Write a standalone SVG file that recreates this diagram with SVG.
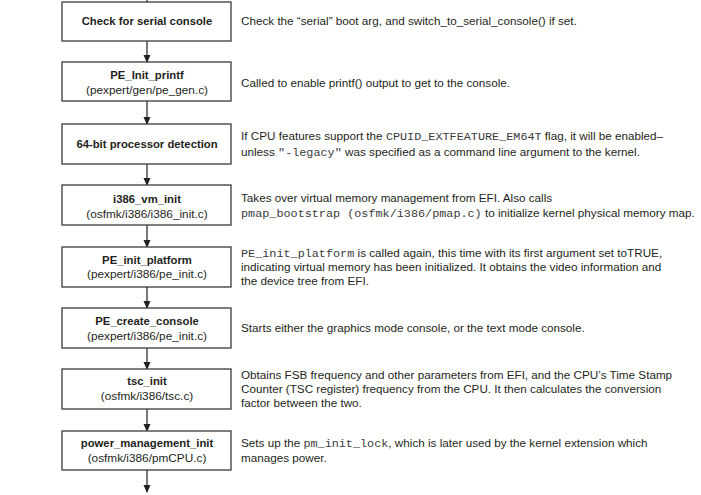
<svg xmlns="http://www.w3.org/2000/svg" width="701" height="495" viewBox="0 0 701 495">
<defs>
<marker id="ah" markerWidth="8" markerHeight="8" refX="7" refY="4" orient="auto" markerUnits="userSpaceOnUse">
<path d="M0,0.5 L8,4 L0,7.5 Z" fill="#231f20"/>
</marker>
<style>
.box{fill:#fff;stroke:#3a3a3a;stroke-width:1.3}
.t{font-family:"Liberation Sans",Arial,sans-serif;fill:#231f20}
.b{font-weight:bold;font-size:11.3px;text-anchor:middle}
.s{font-size:11.8px;text-anchor:middle}
.d{font-size:11.7px}
.m{font-family:"Liberation Mono","Courier New",monospace;font-size:11.8px;fill:#3a3a3a}
.c{stroke:#231f20;stroke-width:1.2;fill:none}
</style>
</defs>
<rect width="701" height="495" fill="#fff"/>
<g id="connectors">
<line class="c" x1="147" y1="0" x2="147" y2="2"/>
<line class="c" x1="147" y1="41" x2="147" y2="62" marker-end="url(#ah)"/>
<line class="c" x1="147" y1="101" x2="147" y2="124" marker-end="url(#ah)"/>
<line class="c" x1="147" y1="164" x2="147" y2="185" marker-end="url(#ah)"/>
<line class="c" x1="147" y1="225" x2="147" y2="247" marker-end="url(#ah)"/>
<line class="c" x1="147" y1="287" x2="147" y2="308" marker-end="url(#ah)"/>
<line class="c" x1="147" y1="348" x2="147" y2="369" marker-end="url(#ah)"/>
<line class="c" x1="147" y1="409" x2="147" y2="431" marker-end="url(#ah)"/>
<line class="c" x1="147" y1="470" x2="147" y2="492" marker-end="url(#ah)"/>
</g>
<g id="n1">
<rect class="box" x="62" y="2" width="169" height="39"/>
<text class="t b" x="147" y="25">Check for serial console</text>
<text class="t d" x="241" y="25">Check the “serial” boot arg, and switch_to_serial_console() if set.</text>
</g>
<g id="n2">
<rect class="box" x="62" y="62" width="169" height="39"/>
<text class="t b" x="147" y="79">PE_Init_printf</text>
<text class="t s" x="147" y="94">(pexpert/gen/pe_gen.c)</text>
<text class="t d" x="241" y="87">Called to enable printf() output to get to the console.</text>
</g>
<g id="n3">
<rect class="box" x="62" y="124" width="169" height="40"/>
<text class="t b" x="147" y="148">64-bit processor detection</text>
<text class="t d" x="241" y="140">If CPU features support the <tspan class="m">CPUID_EXTFEATURE_EM64T</tspan> flag, it will be enabled–</text>
<text class="t d" x="241" y="156">unless <tspan class="m">"-legacy"</tspan> was specified as a command line argument to the kernel.</text>
</g>
<g id="n4">
<rect class="box" x="62" y="185" width="169" height="40"/>
<text class="t b" x="147" y="203">i386_vm_init</text>
<text class="t s" x="147" y="218">(osfmk/i386/i386_init.c)</text>
<text class="t d" x="241" y="202">Takes over virtual memory management from EFI. Also calls</text>
<text class="t d" x="241" y="217"><tspan class="m">pmap_bootstrap (osfmk/i386/pmap.c)</tspan> to initialize kernel physical memory map.</text>
</g>
<g id="n5">
<rect class="box" x="62" y="247" width="169" height="40"/>
<text class="t b" x="147" y="264">PE_init_platform</text>
<text class="t s" x="147" y="278">(pexpert/i386/pe_init.c)</text>
<text class="t d" x="241" y="257"><tspan class="m">PE_init_platform</tspan> is called again, this time with its first argument set toTRUE,</text>
<text class="t d" x="241" y="271">indicating virtual memory has been initialized. It obtains the video information and</text>
<text class="t d" x="241" y="285">the device tree from EFI.</text>
</g>
<g id="n6">
<rect class="box" x="62" y="308" width="169" height="40"/>
<text class="t b" x="147" y="325">PE_create_console</text>
<text class="t s" x="147" y="340">(pexpert/i386/pe_init.c)</text>
<text class="t d" x="241" y="332">Starts either the graphics mode console, or the text mode console.</text>
</g>
<g id="n7">
<rect class="box" x="62" y="369" width="169" height="40"/>
<text class="t b" x="147" y="385">tsc_init</text>
<text class="t s" x="147" y="400">(osfmk/i386/tsc.c)</text>
<text class="t d" x="241" y="379">Obtains FSB frequency and other parameters from EFI, and the CPU’s Time Stamp</text>
<text class="t d" x="241" y="393">Counter (TSC register) frequency from the CPU. It then calculates the conversion</text>
<text class="t d" x="241" y="407">factor between the two.</text>
</g>
<g id="n8">
<rect class="box" x="62" y="431" width="169" height="39"/>
<text class="t b" x="147" y="447">power_management_init</text>
<text class="t s" x="147" y="462">(osfmk/i386/pmCPU.c)</text>
<text class="t d" x="241" y="447">Sets up the <tspan class="m">pm_init_lock</tspan>, which is later used by the kernel extension which</text>
<text class="t d" x="241" y="462">manages power.</text>
</g>
</svg>
